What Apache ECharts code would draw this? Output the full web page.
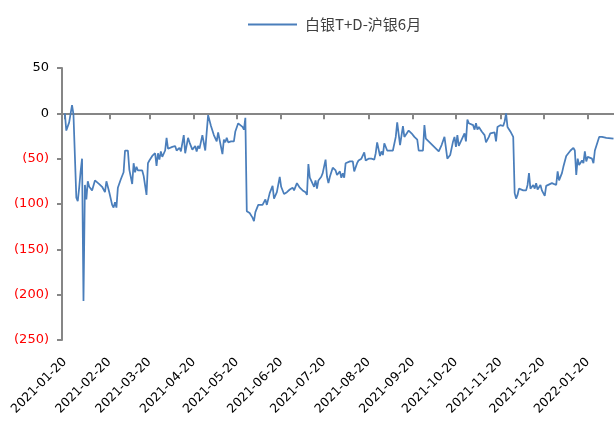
<!DOCTYPE html>
<html>
<head>
<meta charset="utf-8">
<script src="https://cdn.jsdelivr.net/npm/echarts@6/dist/echarts.min.js"></script>
<style>html,body{margin:0;padding:0;background:#fff}#c{width:614px;height:424px}</style>
</head>
<body>
<div id="c"></div>
<script>
const seriesName = '白银T+D-沪银6月';
const dates = [
'2021-01-20','2021-01-21','2021-01-23','2021-01-25','2021-01-26','2021-01-28','2021-01-29','2021-01-30','2021-01-31','2021-02-01',
'2021-02-02','2021-02-03','2021-02-04','2021-02-05','2021-02-06','2021-02-08','2021-02-10','2021-02-13','2021-02-15','2021-02-17',
'2021-02-18','2021-02-20','2021-02-22','2021-02-23','2021-02-24','2021-02-25','2021-02-26','2021-02-28','2021-03-02','2021-03-03',
'2021-03-05','2021-03-06','2021-03-08','2021-03-09','2021-03-10','2021-03-11','2021-03-12','2021-03-15','2021-03-16','2021-03-18',
'2021-03-19','2021-03-20','2021-03-22','2021-03-24','2021-03-25','2021-03-26','2021-03-27','2021-03-28','2021-03-29','2021-03-31',
'2021-04-01','2021-04-02','2021-04-05','2021-04-07','2021-04-08','2021-04-10','2021-04-11','2021-04-13','2021-04-14','2021-04-16',
'2021-04-17','2021-04-19','2021-04-21','2021-04-22','2021-04-23','2021-04-24','2021-04-26','2021-04-28','2021-04-29','2021-04-30',
'2021-05-02','2021-05-04','2021-05-06','2021-05-07','2021-05-09','2021-05-10','2021-05-11','2021-05-12','2021-05-13','2021-05-14',
'2021-05-16','2021-05-18','2021-05-19','2021-05-20','2021-05-21','2021-05-22','2021-05-24','2021-05-25','2021-05-26','2021-05-27',
'2021-05-29','2021-05-31','2021-06-01','2021-06-02','2021-06-04','2021-06-07','2021-06-09','2021-06-10','2021-06-12','2021-06-14',
'2021-06-15','2021-06-17','2021-06-19','2021-06-20','2021-06-22','2021-06-24','2021-06-26','2021-06-28','2021-06-29','2021-07-01',
'2021-07-03','2021-07-05','2021-07-07','2021-07-08','2021-07-09','2021-07-10','2021-07-11','2021-07-13','2021-07-14','2021-07-15',
'2021-07-16','2021-07-18','2021-07-19','2021-07-21','2021-07-22','2021-07-23','2021-07-24','2021-07-26','2021-07-28','2021-07-29',
'2021-07-31','2021-08-01','2021-08-02','2021-08-03','2021-08-04','2021-08-05','2021-08-07','2021-08-09','2021-08-10','2021-08-12',
'2021-08-13','2021-08-15','2021-08-17','2021-08-18','2021-08-20','2021-08-22','2021-08-24','2021-08-25','2021-08-26','2021-08-28',
'2021-08-29','2021-08-30','2021-08-31','2021-09-02','2021-09-04','2021-09-06','2021-09-08','2021-09-09','2021-09-11','2021-09-13',
'2021-09-14','2021-09-15','2021-09-17','2021-09-19','2021-09-21','2021-09-23','2021-09-24','2021-09-25','2021-09-27','2021-09-28',
'2021-09-29','2021-09-30','2021-10-08','2021-10-10','2021-10-12','2021-10-14','2021-10-16','2021-10-18','2021-10-19','2021-10-20',
'2021-10-21','2021-10-22','2021-10-24','2021-10-26','2021-10-27','2021-10-28','2021-10-29','2021-11-01','2021-11-02','2021-11-03',
'2021-11-04','2021-11-05','2021-11-07','2021-11-09','2021-11-10','2021-11-12','2021-11-13','2021-11-16','2021-11-17','2021-11-18',
'2021-11-20','2021-11-22','2021-11-23','2021-11-24','2021-11-25','2021-11-26','2021-11-27','2021-11-29','2021-11-30','2021-12-01',
'2021-12-02','2021-12-03','2021-12-04','2021-12-06','2021-12-08','2021-12-09','2021-12-10','2021-12-11','2021-12-13','2021-12-14',
'2021-12-15','2021-12-16','2021-12-18','2021-12-19','2021-12-21','2021-12-22','2021-12-23','2021-12-26','2021-12-27','2021-12-29',
'2021-12-30','2021-12-31','2022-01-02','2022-01-03','2022-01-05','2022-01-06','2022-01-08','2022-01-10','2022-01-11','2022-01-12',
'2022-01-13','2022-01-14','2022-01-16','2022-01-17','2022-01-18','2022-01-19','2022-01-20','2022-01-23','2022-01-24','2022-01-25',
'2022-01-26','2022-01-28','2022-01-30','2022-02-02','2022-02-07'
];
const values = [
0,-19,-10,9,-1,-93,-97,-82,-64,-50,
-207,-79,-95,-75,-81,-85,-74,-78,-81,-87,
-75,-87,-101,-104,-98,-104,-82,-73,-65,-41,
-41,-62,-78,-55,-65,-59,-63,-63,-69,-90,
-55,-52,-47,-44,-58,-44,-51,-42,-48,-41,
-27,-39,-37,-36,-41,-38,-42,-24,-44,-27,
-32,-40,-36,-42,-36,-39,-24,-41,-21,-2,
-14,-24,-31,-21,-37,-45,-29,-32,-27,-32,
-31,-31,-20,-21,-11,-12,-15,-18,-5,-108,
-110,-115,-119,-109,-101,-101,-95,-101,-88,-80,
-94,-87,-70,-81,-89,-87,-84,-82,-85,-77,
-82,-85,-87,-90,-56,-71,-72,-81,-74,-83,
-74,-70,-66,-51,-70,-77,-70,-60,-63,-68,
-64,-71,-66,-71,-55,-55,-53,-53,-64,-55,
-52,-50,-43,-52,-50,-50,-51,-44,-32,-47,
-42,-46,-33,-41,-41,-41,-26,-10,-35,-14,
-26,-28,-19,-22,-26,-29,-41,-41,-41,-13,
-28,-29,-42,-35,-26,-50,-46,-31,-26,-37,
-24,-36,-29,-22,-31,-7,-11,-13,-18,-11,
-18,-15,-20,-24,-32,-26,-22,-21,-31,-15,
-13,-14,-9,0,-15,-17,-20,-26,-88,-94,
-90,-83,-83,-85,-85,-79,-66,-83,-79,-83,
-77,-84,-79,-85,-91,-80,-78,-77,-76,-79,
-64,-74,-66,-59,-47,-46,-41,-38,-41,-68,
-50,-57,-52,-55,-42,-53,-48,-50,-55,-41,
-39,-26,-26,-27,-28
];
const tickDates = ['2021-01-20','2021-02-20','2021-03-20','2021-04-20','2021-05-20','2021-06-20','2021-07-20','2021-08-20','2021-09-20','2021-10-20','2021-11-20','2021-12-20','2022-01-20'];
const xStart = '2021-01-18';
const xEnd = '2022-02-07';
const yMin = -250, yMax = 50, yStep = 50;

function ts(s) { const p = s.split('-').map(Number); return new Date(p[0], p[1] - 1, p[2]).getTime(); }
function fmtDate(v) {
  const d = new Date(v);
  const pad = n => (n < 10 ? '0' : '') + n;
  return d.getFullYear() + '-' + pad(d.getMonth() + 1) + '-' + pad(d.getDate());
}
const tickTs = tickDates.map(ts);
const data = dates.map((d, i) => [ts(d), values[i]]);

const chart = echarts.init(document.getElementById('c'), null, { renderer: 'canvas' });
const axisGray = '#868686';

function labelAxis(vals) {
  return {
    type: 'value', position: 'bottom', min: ts(xStart), max: ts(xEnd),
    axisLine: { show: false, onZero: false },
    axisTick: { show: false },
    splitLine: { show: false },
    axisLabel: {
      customValues: vals, rotate: 45, margin: 20, hideOverlap: false,
      showMinLabel: true, showMaxLabel: true,
      fontFamily: 'DejaVu Sans', fontSize: 12.5, color: '#000000',
      formatter: v => fmtDate(v)
    }
  };
}

chart.setOption({
  animation: false,
  legend: {
    left: 243, top: 12,
    icon: 'rect', itemWidth: 49, itemHeight: 2,
    textStyle: { fontFamily: 'Noto Sans CJK SC', fontSize: 15, color: '#404040', padding: [0, 0, 0, 3] },
    data: [seriesName]
  },
  grid: { left: 62, right: 0.5, top: 68, bottom: 84 },
  xAxis: [
    labelAxis(tickTs.filter((v, i) => i % 2 === 0)),
    {
      type: 'value', position: 'bottom', min: ts(xStart), max: ts(xEnd),
      axisLine: { show: true, onZero: true, lineStyle: { color: axisGray, width: 2 } },
      axisTick: { show: true, customValues: tickTs, length: 6, lineStyle: { color: axisGray, width: 2 } },
      axisLabel: { show: false },
      splitLine: { show: false }
    },
    labelAxis(tickTs.filter((v, i) => i % 2 === 1))
  ],
  yAxis: {
    type: 'value', min: yMin, max: yMax, interval: yStep,
    axisLine: { show: true, onZero: false, lineStyle: { color: axisGray, width: 2 } },
    axisTick: { show: true, length: 5, lineStyle: { color: axisGray, width: 2 } },
    splitLine: { show: false },
    axisLabel: {
      margin: 13, fontFamily: 'DejaVu Sans', fontSize: 13,
      color: v => (Number(v) < 0 ? '#FF0000' : '#000000'),
      formatter: v => (v < 0 ? '(' + (-v) + ')' : String(v))
    }
  },
  series: [{
    name: seriesName, type: 'line', xAxisIndex: 0, data: data,
    symbol: 'none', showSymbol: false,
    lineStyle: { color: '#4A7EBB', width: 1.75 },
    itemStyle: { color: '#4A7EBB' }
  }]
});
</script>
</body>
</html>
